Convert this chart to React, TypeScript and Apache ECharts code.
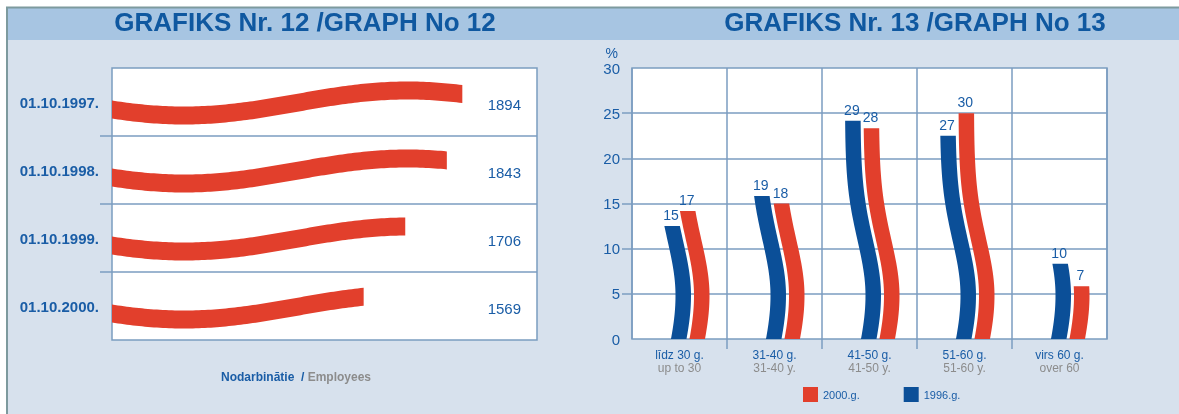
import React, { useEffect, useRef } from 'react';
import * as echarts from 'echarts';

// ---------- data ----------
const dates = ['01.10.1997.', '01.10.1998.', '01.10.1999.', '01.10.2000.'];
const employees = [1894, 1843, 1706, 1569];

const ageLv = ['līdz 30 g.', '31-40 g.', '41-50 g.', '51-60 g.', 'virs 60 g.'];
const ageEn = ['up to 30', '31-40 y.', '41-50 y.', '51-60 y.', 'over 60'];
const share1996 = [15, 19, 29, 27, 10];
const share2000 = [17, 18, 28, 30, 7];
const yTickLabels = ['0', '5', '10', '15', '20', '25', '30'];

// ---------- styles ----------
const FONT = '"Liberation Sans", Arial, Helvetica, sans-serif';
const RED = '#e23f2c';
const BLUE = '#0b4f98';
const TXT = '#1a5da6';
const TITLE = '#0f58a0';
const GRAY = '#8c8c8c';
const LINE = '#7b9dc0';
const BG = '#d7e1ed';
const HEAD = '#a7c5e2';
const EDGE = '#7d9a9e';

const X_MIN = 740;
const X_MAX = 2140;
const Y_MAX = 36;
const Y_STEP = 6;

function leftWave(u: number) {
  return 1 + 12.5 * Math.cos((2 * Math.PI * (u - 0.17)) / 1.05);
}
function rightWave(t: number) {
  const w = t < 0.16 ? 0.32 : 0.29;
  return 20.5 * Math.exp(-Math.pow((t - 0.16) / w, 2));
}

const renderLeft = (params: any, api: any) => {
  const cs = params.coordSys;
  const v = api.value(0);
  const idx = api.value(1);
  const end = api.coord([v, idx]);
  const start = api.coord([X_MIN, idx]);
  const bandH = api.size([0, 1])[1];
  const k = bandH / 68;
  const half = 9 * k;
  const top: number[][] = [];
  const bot: number[][] = [];
  const steps = Math.max(2, Math.ceil((end[0] - start[0]) / 3));
  for (let s = 0; s <= steps; s++) {
    const x = start[0] + ((end[0] - start[0]) * s) / steps;
    const u = (x - cs.x) / cs.width;
    const yc = end[1] + leftWave(u) * k;
    top.push([x, yc - half]);
    bot.push([x, yc + half]);
  }
  const children: any[] = [
    { type: 'polygon', shape: { points: top.concat(bot.reverse()) }, style: { fill: RED } },
    {
      type: 'text',
      x: cs.x + cs.width - 16,
      y: end[1] + 2.5,
      style: { text: String(v), fill: TXT, fontSize: 15, fontFamily: FONT, align: 'right', verticalAlign: 'middle' },
    },
  ];
  if (params.dataIndex > 0) {
    const yb = end[1] - bandH / 2;
    children.push({
      type: 'line',
      shape: { x1: cs.x - 12, y1: yb, x2: cs.x + cs.width, y2: yb },
      style: { stroke: LINE, lineWidth: 1.5 },
    });
  }
  return { type: 'group', children };
};

const makeRenderRight = (off: number, color: string, ticks: boolean) => (params: any, api: any) => {
  const i = api.value(0);
  const v = api.value(1);
  const bottom = api.coord([i, 0]);
  const bandW = api.size([1, 0])[0];
  const k = bandW / 95;
  const w = 15.5 * k;
  const base = bottom[0] + off * k;
  const N = 50;
  const left: number[][] = [];
  const right: number[][] = [];
  for (let s = 0; s <= N; s++) {
    const vv = (v * s) / N;
    const p = api.coord([i, vv]);
    const x = base + rightWave(vv / Y_MAX) * k;
    left.push([x, p[1]]);
    right.push([x + w, p[1]]);
  }
  const topPt = left[N];
  const children: any[] = [
    { type: 'polygon', shape: { points: left.concat(right.slice().reverse()) }, style: { fill: color } },
    {
      type: 'text',
      x: topPt[0] + w / 2 - 1,
      y: topPt[1] - 4,
      style: { text: String(v), fill: TXT, fontSize: 14, fontFamily: FONT, align: 'center', verticalAlign: 'bottom' },
    },
  ];
  if (ticks && i > 0) {
    const xb = bottom[0] - bandW / 2;
    children.push({
      type: 'line',
      shape: { x1: xb, y1: bottom[1], x2: xb, y2: bottom[1] + 10 },
      style: { stroke: LINE, lineWidth: 1.5 },
    });
  }
  return { type: 'group', children };
};

function buildOption(): any {
  return {
    animation: false,
    textStyle: { fontFamily: FONT },
    graphic: {
      elements: [
        { type: 'rect', z: -100, silent: true, shape: { x: 7, y: 8, width: 1180, height: 410 }, style: { fill: BG, lineWidth: 0 } },
        { type: 'rect', z: -99, silent: true, shape: { x: 7, y: 8, width: 1180, height: 32 }, style: { fill: HEAD, lineWidth: 0 } },
        { type: 'line', z: -98, silent: true, shape: { x1: 6, y1: 7.5, x2: 1185, y2: 7.5 }, style: { stroke: EDGE, lineWidth: 2 } },
        { type: 'line', z: -98, silent: true, shape: { x1: 7, y1: 7, x2: 7, y2: 420 }, style: { stroke: EDGE, lineWidth: 2 } },
        {
          type: 'text', x: 305, y: 22,
          style: { text: 'GRAFIKS Nr. 12 /GRAPH No 12', fill: TITLE, fontSize: 26, fontWeight: 'bold', fontFamily: FONT, align: 'center', verticalAlign: 'middle' },
        },
        {
          type: 'text', x: 915, y: 22,
          style: { text: 'GRAFIKS Nr. 13 /GRAPH No 13', fill: TITLE, fontSize: 26, fontWeight: 'bold', fontFamily: FONT, align: 'center', verticalAlign: 'middle' },
        },
        {
          type: 'text', x: 296, y: 377,
          style: {
            text: '{a|Nodarbinātie}  {a|/} {b|Employees}',
            align: 'center', verticalAlign: 'middle',
            rich: {
              a: { fill: TXT, fontSize: 12, fontWeight: 'bold', fontFamily: FONT },
              b: { fill: GRAY, fontSize: 12, fontWeight: 'bold', fontFamily: FONT },
            },
          },
        },
      ],
    },
    legend: {
      data: ['2000.g.', '1996.g.'],
      left: 803,
      top: 387,
      padding: 0,
      icon: 'rect',
      itemWidth: 15,
      itemHeight: 15,
      itemGap: 44,
      textStyle: { color: TXT, fontSize: 11, fontFamily: FONT },
    },
    grid: [
      { left: 112, top: 68, width: 425, height: 272, show: true, backgroundColor: '#fff', borderColor: LINE, borderWidth: 1.5 },
      { left: 632, top: 68, width: 475, height: 271, show: true, backgroundColor: '#fff', borderColor: LINE, borderWidth: 1.5 },
    ],
    xAxis: [
      { gridIndex: 0, type: 'value', min: X_MIN, max: X_MAX, show: false },
      {
        gridIndex: 1,
        type: 'category',
        data: ageLv,
        boundaryGap: true,
        axisLine: { show: false },
        axisTick: { show: false },
        splitLine: { show: true, interval: 0, lineStyle: { color: LINE, width: 1.5 } },
        axisLabel: {
          interval: 0,
          margin: 9,
          formatter: (val: string, idx: number) => `{a|${val}}\n{b|${ageEn[idx]}}`,
          rich: {
            a: { color: TXT, fontSize: 12, lineHeight: 13, fontFamily: FONT },
            b: { color: GRAY, fontSize: 12, lineHeight: 13, fontFamily: FONT },
          },
        },
      },
    ],
    yAxis: [
      {
        gridIndex: 0,
        type: 'category',
        data: dates,
        inverse: true,
        axisLine: { show: false },
        axisTick: { show: false },
        splitLine: { show: false },
        axisLabel: { color: TXT, fontSize: 15, fontWeight: 'bold', fontFamily: FONT, margin: 13, padding: [5, 0, 0, 0] },
      },
      {
        gridIndex: 1,
        type: 'value',
        min: 0,
        max: Y_MAX,
        interval: Y_STEP,
        name: '%',
        nameLocation: 'end',
        nameGap: 8,
        nameTextStyle: { color: TXT, fontSize: 14, fontFamily: FONT, align: 'right', padding: [0, 14, 0, 0] },
        axisLine: { show: false },
        axisTick: { show: true, customValues: [6, 12, 18, 24, 30], length: 10, lineStyle: { color: LINE, width: 1.5 } },
        splitLine: { show: true, lineStyle: { color: LINE, width: 1.5 } },
        axisLabel: {
          color: TXT,
          fontSize: 15,
          fontFamily: FONT,
          margin: 12,
          formatter: (v: number) => yTickLabels[Math.round(v / Y_STEP)],
        },
      },
    ],
    series: [
      {
        name: 'Nodarbinātie',
        type: 'custom',
        xAxisIndex: 0,
        yAxisIndex: 0,
        renderItem: renderLeft,
        itemStyle: { color: RED },
        encode: { x: 0, y: 1 },
        data: employees.map((v, i) => [v, i]),
      },
      {
        name: '1996.g.',
        type: 'custom',
        xAxisIndex: 1,
        yAxisIndex: 1,
        renderItem: makeRenderRight(-24.5, BLUE, true),
        itemStyle: { color: BLUE },
        encode: { x: 0, y: 1 },
        data: share1996.map((v, i) => [i, v]),
      },
      {
        name: '2000.g.',
        type: 'custom',
        xAxisIndex: 1,
        yAxisIndex: 1,
        renderItem: makeRenderRight(-6, RED, false),
        itemStyle: { color: RED },
        encode: { x: 0, y: 1 },
        data: share2000.map((v, i) => [i, v]),
      },
    ],
  };
}

export default function App() {
  const ref = useRef<HTMLDivElement>(null);
  useEffect(() => {
    if (!ref.current) return;
    document.body.style.margin = '0';
    document.body.style.overflow = 'hidden';
    const chart = echarts.init(ref.current, null, { renderer: 'svg' });
    chart.setOption(buildOption());
    return () => chart.dispose();
  }, []);
  return (
    <div
      ref={ref}
      style={{ position: 'fixed', left: 0, top: 0, width: 1179, height: 414, overflow: 'hidden' }}
    />
  );
}
